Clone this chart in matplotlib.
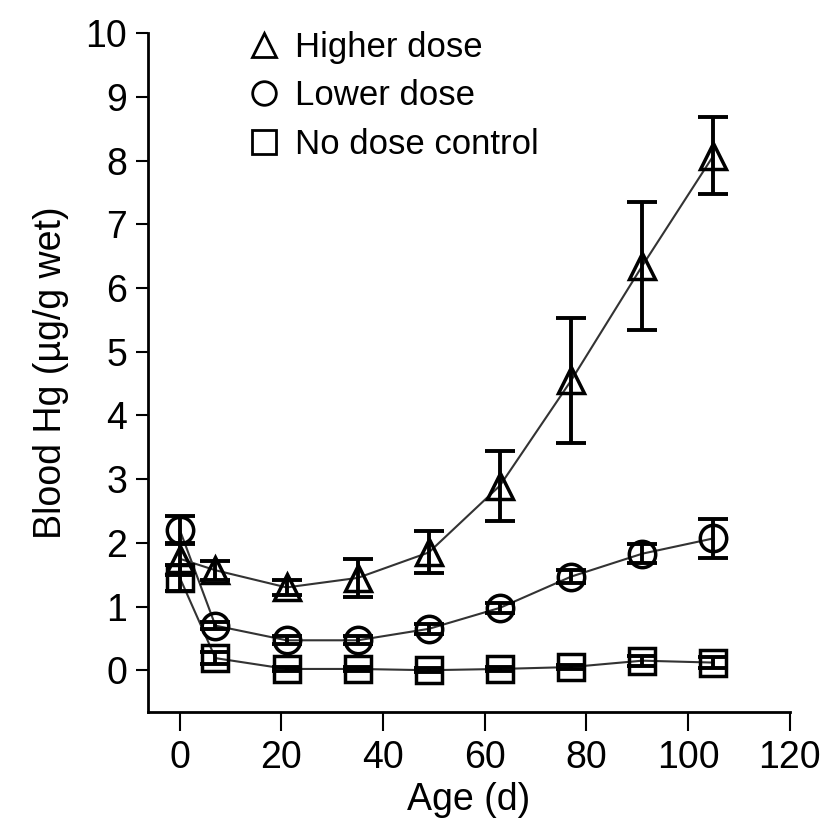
import matplotlib
matplotlib.use("Agg")
import matplotlib.pyplot as plt
from matplotlib.lines import Line2D
from matplotlib import font_manager as fm

names = {f.name for f in fm.fontManager.ttflist}
fam = ['Liberation Sans Narrow', 'Liberation Sans', 'DejaVu Sans']
fam = [f for f in fam if f in names] or ['DejaVu Sans']
plt.rcParams['font.family'] = fam

age = [0, 7, 21, 35, 49, 63, 77, 91, 105]
higher = [1.75, 1.57, 1.30, 1.45, 1.85, 2.90, 4.55, 6.35, 8.08]
higher_err = [0.25, 0.15, 0.12, 0.30, 0.33, 0.55, 0.98, 1.00, 0.60]
lower = [2.20, 0.70, 0.47, 0.47, 0.65, 0.98, 1.47, 1.83, 2.07]
lower_err = [0.22, 0.06, 0.06, 0.06, 0.08, 0.08, 0.10, 0.15, 0.30]
control = [1.45, 0.19, 0.02, 0.02, 0.00, 0.02, 0.05, 0.15, 0.12]
control_err = [0.20, 0.10, 0.03, 0.03, 0.03, 0.03, 0.03, 0.08, 0.08]

series = [
    ("Higher dose", higher, higher_err, '^'),
    ("Lower dose", lower, lower_err, 'o'),
    ("No dose control", control, control_err, 's'),
]

fig = plt.figure(figsize=(8.26, 8.35), dpi=100)
ax = fig.add_axes([0.179, 0.147, 0.777, 0.813])

for label, y, e, m in series:
    ax.plot(age, y, color='#333333', lw=1.5, zorder=2)
    ax.errorbar(age, y, yerr=e, fmt='none', ecolor='black', elinewidth=2.8,
                capsize=11, capthick=2.8, zorder=3)
    ax.plot(age, y, linestyle='none', marker=m, markersize=19,
            markerfacecolor='none', markeredgecolor='black',
            markeredgewidth=2.5, zorder=4)

ax.set_xlim(-6.3, 120)
ax.set_ylim(-0.66, 10)
ax.set_xticks(range(0, 121, 20))
ax.set_yticks(range(0, 11))
for s in ['top', 'right']:
    ax.spines[s].set_visible(False)
for s in ['left', 'bottom']:
    ax.spines[s].set_linewidth(2)
ax.tick_params(axis='y', direction='out', length=9, width=1.5,
               labelsize=27, pad=6)
ax.tick_params(axis='x', direction='out', length=14, width=1.5,
               labelsize=27, pad=6)
ax.set_xlabel("Age (d)", fontsize=27, labelpad=4)
ax.set_ylabel("Blood Hg (\u00b5g/g wet)", fontsize=27, labelpad=12)

handles = [Line2D([], [], linestyle='none', marker=m, markersize=17,
                  markerfacecolor='none', markeredgecolor='black',
                  markeredgewidth=2) for _, _, _, m in series]
ax.legend(handles, [s[0] for s in series], loc='upper left',
          bbox_to_anchor=(0.1, 1.05), frameon=False, fontsize=25,
          handletextpad=0.3, labelspacing=0.45, handlelength=1.2)

fig.savefig("out.png", dpi=100)
